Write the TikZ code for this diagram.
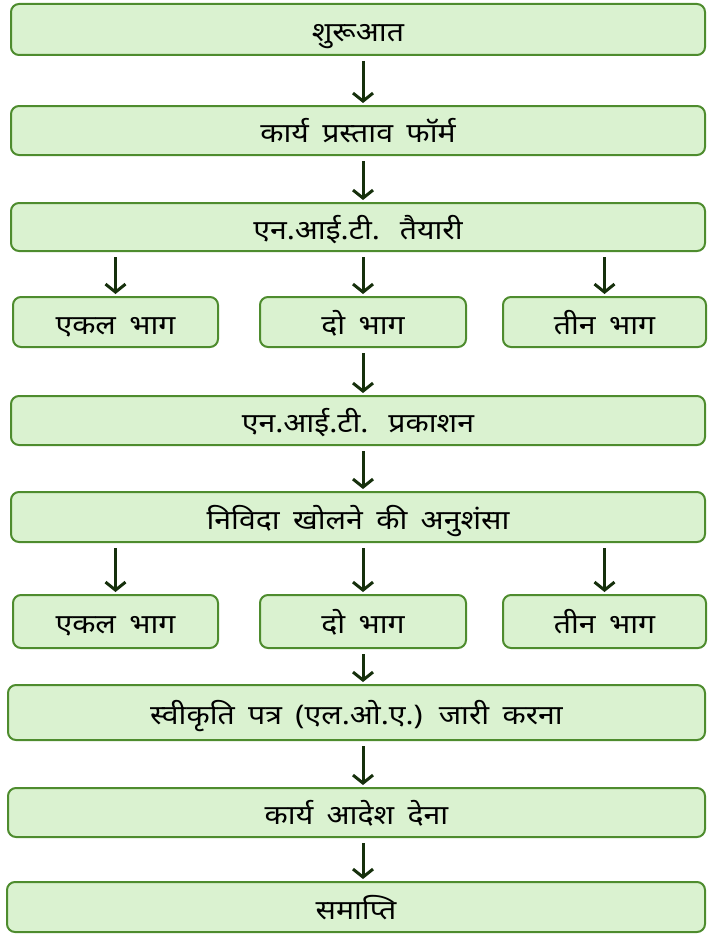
\documentclass[tikz,border=0pt]{standalone}
\usepackage{fontspec}
\newfontfamily\dev[Script=Devanagari,WordSpace=1.7,FakeStretch=1.12]{Noto Sans}
\usetikzlibrary{arrows.meta}
\definecolor{boxfill}{RGB}{218,242,208}
\definecolor{boxdraw}{RGB}{78,140,46}
\definecolor{arrowcol}{RGB}{22,48,12}
\begin{document}
\begin{tikzpicture}[x=1pt,y=-1pt,
  box/.style={draw=boxdraw, fill=boxfill, line width=2pt, rounded corners=8pt,
    inner sep=0pt, outer sep=0pt, text height=24pt, text depth=0pt,
    font=\dev\fontsize{27}{30}\selectfont, text=black},
  flow/.style={draw=arrowcol, line width=3pt, -{Straight Barb[length=8pt,width=20pt]},
    shorten <=6pt, shorten >=3pt}
]
\useasboundingbox (0,0) rectangle (707,934);
\newcommand{\bx}[7]{% name, x1, x2, y1, y2, text
  \node[box, minimum width={#3-#2}, minimum height={#5-#4}] (#1) at ({(#2+#3)/2},{(#4+#5)/2}) {#6};}
\bx{b1}{11}{705}{4}{55}{शुरूआत}{}
\bx{b2}{11}{705}{106}{155}{कार्य प्रस्ताव फॉर्म}{}
\bx{b3}{11}{705}{203}{251}{एन.आई.टी. \kern4pt तैयारी}{}
\bx{s1a}{13}{218}{297}{347}{एकल भाग}{}
\bx{s1b}{260}{466}{297}{347}{दो भाग}{}
\bx{s1c}{503}{706}{297}{347}{तीन भाग}{}
\bx{b4}{11}{705}{396}{445}{एन.आई.टी. \kern4pt प्रकाशन}{}
\bx{b5}{11}{705}{492}{542}{निविदा खोलने की अनुशंसा}{}
\bx{s2a}{13}{218}{595}{648}{एकल भाग}{}
\bx{s2b}{260}{466}{595}{648}{दो भाग}{}
\bx{s2c}{503}{706}{595}{648}{तीन भाग}{}
\bx{b6}{8}{705}{685}{740}{स्वीकृति पत्र (एल.ओ.ए.) जारी करना}{}
\bx{b7}{8}{705}{788}{837}{कार्य आदेश देना}{}
\bx{b8}{7}{705}{882}{932}{समाप्ति}{}
\draw[flow] (b1.south -| s1b.south) -- (b2.north -| s1b.south);
\draw[flow] (b2.south -| s1b.south) -- (b3.north -| s1b.south);
\draw[flow] (b3.south -| s1a.north) -- (s1a.north);
\draw[flow] (b3.south -| s1b.north) -- (s1b.north);
\draw[flow] (b3.south -| s1c.north) -- (s1c.north);
\draw[flow] (s1b.south) -- (b4.north -| s1b.south);
\draw[flow] (b4.south -| s1b.south) -- (b5.north -| s1b.south);
\draw[flow] (b5.south -| s2a.north) -- (s2a.north);
\draw[flow] (b5.south -| s2b.north) -- (s2b.north);
\draw[flow] (b5.south -| s2c.north) -- (s2c.north);
\draw[flow] (s2b.south) -- (b6.north -| s2b.south);
\draw[flow] (b6.south -| s2b.south) -- (b7.north -| s2b.south);
\draw[flow] (b7.south -| s2b.south) -- (b8.north -| s2b.south);
\end{tikzpicture}
\end{document}
